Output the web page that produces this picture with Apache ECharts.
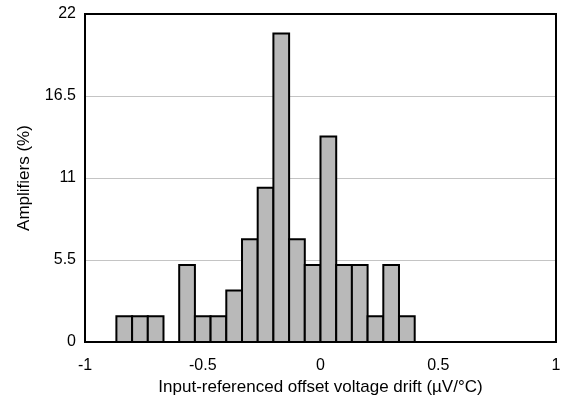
<!DOCTYPE html>
<html><head><meta charset="utf-8">
<script src="https://cdn.jsdelivr.net/npm/echarts@6/dist/echarts.min.js"></script>
<style>html,body{margin:0;padding:0;background:#fff}#c{width:568px;height:396px}</style>
</head><body><div id="c"></div>
<script>
// Histogram bins (µV/°C), bin width 1/15
const binStart = [-0.8667,-0.8,-0.7333,-0.6667,-0.6,-0.5333,-0.4667,-0.4,-0.3333,-0.2667,-0.2,-0.1333,-0.0667,0,0.0667,0.1333,0.2,0.2667,0.3333];
const binEnd   = [-0.8,-0.7333,-0.6667,-0.6,-0.5333,-0.4667,-0.4,-0.3333,-0.2667,-0.2,-0.1333,-0.0667,0,0.0667,0.1333,0.2,0.2667,0.3333,0.4];
// Amplifiers (%)
const percent  = [1.72,1.72,1.72,0,5.17,1.72,1.72,3.45,6.90,10.34,20.69,6.90,5.17,13.79,5.17,5.17,1.72,5.17,1.72];
const yTicks = [0,5.5,11,16.5,22];
const xTicks = [-1,-0.5,0,0.5,1];

const data = binStart.map((s,i)=>[s,binEnd[i],percent[i]]);
const font = 'Liberation Sans, Arial, sans-serif';
const chart = echarts.init(document.getElementById('c'), null, {renderer:'canvas'});
chart.setOption({
  animation:false,
  grid:{left:85,right:12,top:14,bottom:54,show:true,borderColor:'#000',borderWidth:2,backgroundColor:'transparent',z:10,
    outerBoundsMode:'none',containLabel:false},
  xAxis:{type:'value',min:-1,max:1,interval:0.5,
    name:'Input-referenced offset voltage drift (µV/°C)',nameLocation:'middle',nameGap:23,
    nameTextStyle:{fontFamily:font,fontSize:17,color:'#000'},
    axisLine:{show:false},axisTick:{show:false},splitLine:{show:false},
    axisLabel:{fontFamily:font,fontSize:16,color:'#000',margin:16,
      formatter:v=>String(v)}},
  yAxis:{type:'value',min:0,max:22,interval:5.5,
    name:'Amplifiers (%)',nameLocation:'middle',nameGap:52,
    nameTextStyle:{fontFamily:font,fontSize:17,color:'#000'},
    axisLine:{show:false},axisTick:{show:false},
    splitLine:{show:true,lineStyle:{color:'#c4c4c4',width:1}},
    axisLabel:{fontFamily:font,fontSize:16,color:'#000',margin:9,
      formatter:v=>String(v)}},
  series:[{type:'custom',data:data,encode:{x:[0,1],y:2},
    renderItem:function(params,api){
      const p0 = api.coord([api.value(0),0]);
      const p1 = api.coord([api.value(1),api.value(2)]);
      if(api.value(2)<=0) return null;
      return {type:'rect',shape:{x:p0[0],y:p1[1],width:p1[0]-p0[0],height:p0[1]-p1[1]},
        style:{fill:'#b9b9b9',stroke:'#000',lineWidth:2}};
    }}]
});
</script></body></html>
